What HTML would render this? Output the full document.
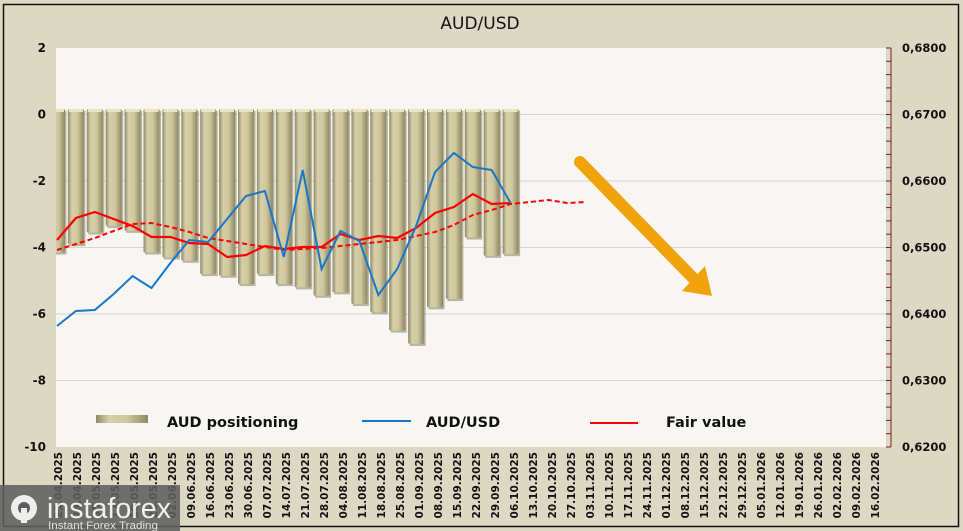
<!DOCTYPE html>
<html><head><meta charset="utf-8"><style>
html,body{margin:0;padding:0;background:#ddd8c3;}
svg{display:block;font-family:"DejaVu Sans","Liberation Sans",sans-serif;}
</style></head><body>
<svg id="s" width="963" height="531" viewBox="0 0 963 531" xmlns="http://www.w3.org/2000/svg">
<defs>
<linearGradient id="bg" x1="0" x2="1" y1="0" y2="0">
<stop offset="0" stop-color="#8f8a68"/><stop offset="0.25" stop-color="#d6cfa8"/><stop offset="0.6" stop-color="#cfc79d"/><stop offset="1" stop-color="#8d8764"/>
</linearGradient>
<clipPath id="pc"><rect x="56" y="48" width="830" height="399"/></clipPath>
</defs>
<rect x="0" y="0" width="963" height="531" fill="#ddd8c3"/>
<rect x="3.5" y="4.5" width="955" height="522" fill="none" stroke="#111" stroke-width="1.5"/>
<rect x="56" y="48" width="830" height="399" fill="#f7f6f2"/>
<g id="grid" stroke="#d6d4cc" stroke-width="1"></g>
<g id="bars" clip-path="url(#pc)"></g>
<g id="lines" clip-path="url(#pc)"></g>
<line x1="891" y1="48" x2="891" y2="447" stroke="#7a1f1f" stroke-width="1"/>
<g id="rt" stroke="#7a1f1f" stroke-width="1"></g>
<text x="480" y="29" font-size="17" text-anchor="middle" fill="#111">AUD/USD</text>
<g id="ly" font-size="12" font-weight="bold" fill="#111" text-anchor="end"></g>
<g id="ry" font-size="11.5" font-weight="bold" fill="#111"></g>
<g id="xl" font-size="10.5" font-weight="bold" fill="#111"></g>
<line x1="580" y1="162" x2="693" y2="278" stroke="#f0a30a" stroke-width="12" stroke-linecap="round"/>
<polygon points="682,291 712,296 705,266" fill="#f0a30a"/>
<rect x="96" y="415" width="52" height="8" fill="url(#bg)"/>
<text x="167" y="427" font-size="14.5" font-weight="bold" fill="#111">AUD positioning</text>
<line x1="362" y1="421" x2="411" y2="421" stroke="#1a76c8" stroke-width="2"/>
<text x="426" y="427" font-size="14.5" font-weight="bold" fill="#111">AUD/USD</text>
<line x1="590" y1="423" x2="638" y2="423" stroke="#f00" stroke-width="2"/>
<text x="666" y="427" font-size="14.5" font-weight="bold" fill="#111">Fair value</text>
<g id="wm" font-family="Liberation Sans,sans-serif">
<rect x="0" y="485" width="180" height="46" fill="#5f5f5f" fill-opacity="0.88"/>
<circle cx="24" cy="508" r="13" fill="#eee"/>
<circle cx="24" cy="508" r="6" fill="#5f5f5f"/>
<rect x="21" y="508" width="6" height="15" fill="#eee"/>
<text x="47" y="518" font-size="29" fill="#f0f0f0" textLength="124" lengthAdjust="spacingAndGlyphs">instaforex</text>
<text x="48" y="529" font-size="11" fill="#e0e0e0" textLength="110" lengthAdjust="spacingAndGlyphs">Instant Forex Trading</text>
</g>
</svg>
<script>
const NS="http://www.w3.org/2000/svg";
function el(p,t,a,txt){const e=document.createElementNS(NS,t);for(const k in a)e.setAttribute(k,a[k]);if(txt!=null)e.textContent=txt;document.getElementById(p).appendChild(e);return e;}
const Y=v=>114.5-v*33.25;
for(let v=2;v>=-10;v-=2){
 if(v!==2&&v!==-10)el("grid","line",{x1:56,x2:886,y1:Y(v),y2:Y(v)});
 el("ly","text",{x:46,y:Y(v)+4},String(v));
}
const rl=["0,6800","0,6700","0,6600","0,6500","0,6400","0,6300","0,6200"];
rl.forEach((t,i)=>el("ry","text",{x:902,y:Y(2-2*i)+4},t));
for(let k=0;k<=30;k++){const y=48+k*399/30;el("rt","line",{x1:886,x2:891,y1:y,y2:y});}
const lx=i=>58+19.0*i;
const cx=i=>57+18.9*i;
let d=new Date(Date.UTC(2025,3,21));
for(let i=0;i<44;i++){
 const dd=String(d.getUTCDate()).padStart(2,"0"),mm=String(d.getUTCMonth()+1).padStart(2,"0"),yy=d.getUTCFullYear();
 const x=lx(i)+4,y=452;
 el("xl","text",{x:x,y:y,transform:`rotate(-90 ${x} ${y})`,"text-anchor":"end"},`${dd}.${mm}.${yy}`);
 d=new Date(d.getTime()+7*864e5);
}
const bars=[-4.15,-3.9,-3.55,-3.35,-3.5,-4.15,-4.3,-4.4,-4.8,-4.85,-5.1,-4.8,-5.1,-5.2,-5.45,-5.35,-5.7,-5.95,-6.5,-6.9,-5.8,-5.55,-3.7,-4.25,-4.2];
bars.forEach((v,i)=>{
 const x=cx(i)-8,top=109,bot=Y(v);
 el("bars","rect",{x:x+1.5,y:top+2,width:16,height:bot-top,fill:"#8e8968",opacity:0.6});
 el("bars","rect",{x:x,y:top,width:16,height:bot-top,fill:"url(#bg)",rx:1.5});
 el("bars","rect",{x:x+1,y:top,width:14,height:3,fill:"#ede5c2"});
});
const blue=[326,311,310,294,276,288,263,240,242,219,196,191,257,170,269,231,241,295,269,226,172,153,167,170,203];
const red=[240,218,212,219,226,237,237,243,244,257,255,246,249,247,247,234,240,236,238,228,213,207,194,204,203];
const dash=[[0,250],[1,244],[2,238],[3,231],[4,224],[5,223],[6,227],[7,232],[8,238],[9,241],[10,244],[11,247],[12,250],[13,249],[14,248],[15,246],[16,244],[17,242],[18,240],[19,236],[20,232],[21,225],[22,215],[23,210],[24,204],[25,202],[26,200],[27,203],[28,202]];
const pts=a=>a.map((y,i)=>cx(i)+","+y).join(" ");
el("lines","polyline",{points:pts(red),fill:"none",stroke:"#f00","stroke-width":2.2});
el("lines","polyline",{points:dash.map(p=>cx(p[0])+","+p[1]).join(" "),fill:"none",stroke:"#f00","stroke-width":2,"stroke-dasharray":"5,3"});
el("lines","polyline",{points:pts(blue),fill:"none",stroke:"#1a76c8","stroke-width":2});
</script>
</body></html>
